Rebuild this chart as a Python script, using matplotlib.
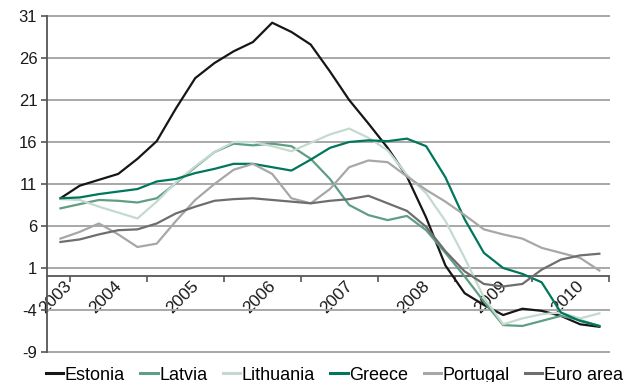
import numpy as np
import matplotlib
matplotlib.use("Agg")
import matplotlib.pyplot as plt

plt.rcParams['font.family'] = ['Liberation Sans', 'DejaVu Sans']
plt.rcParams['axes.unicode_minus'] = False

# Quarterly house price growth, % y/y (2003 Q4 - 2010 Q4)
years = ['2003', '2004', '2005', '2006', '2007', '2008', '2009', '2010']
series_names = ['Estonia', 'Latvia', 'Lithuania', 'Greece', 'Portugal', 'Euro area']

estonia = [9.3, 10.8, 11.5, 12.2, 14.0, 16.1, 20.0, 23.6, 25.4, 26.8, 27.9, 30.2, 29.1, 27.6,
           24.4, 21.0, 18.2, 15.3, 11.9, 7.0, 1.3, -2.0, -3.4, -4.6, -3.85, -4.1, -4.7, -5.7, -6.0]
latvia = [8.1, 8.6, 9.1, 9.0, 8.8, 9.3, 11.1, 13.0, 14.8, 15.8, 15.6, 15.8, 15.5, 14.0,
          11.6, 8.5, 7.3, 6.7, 7.2, 5.5, 2.8, 0.0, -3.0, -5.8, -5.9, -5.3, -4.7, -5.2, -5.9]
lithuania = [9.2, 9.1, 8.3, 7.6, 6.9, 8.9, 11.2, 13.1, 14.8, 16.0, 16.0, 15.5, 14.9, 15.9,
             16.9, 17.6, 16.5, 15.0, 12.1, 9.9, 6.6, 2.2, -2.5, -5.7, -5.0, -4.5, -4.3, -5.0, -4.4]
greece = [9.3, 9.4, 9.8, 10.1, 10.4, 11.3, 11.6, 12.3, 12.8, 13.4, 13.4, 13.0, 12.6, 13.9,
          15.3, 16.0, 16.2, 16.1, 16.4, 15.5, 11.8, 6.8, 2.8, 1.0, 0.3, -0.7, -4.3, -5.3, -5.9]
portugal = [4.5, 5.3, 6.3, 5.0, 3.5, 3.9, 6.6, 9.1, 11.0, 12.7, 13.4, 12.2, 9.3, 8.7,
            10.4, 13.0, 13.8, 13.6, 11.9, 10.3, 8.9, 7.3, 5.6, 5.0, 4.5, 3.4, 2.8, 2.2, 0.7]
euro_area = [4.1, 4.4, 5.0, 5.5, 5.6, 6.3, 7.5, 8.3, 9.0, 9.2, 9.3, 9.1, 8.9, 8.7,
             9.0, 9.2, 9.6, 8.7, 7.8, 5.9, 3.0, 0.6, -0.9, -1.2, -0.9, 0.8, 2.0, 2.5, 2.7]

colors = ['#161616', '#5f9e84', '#c5dacf', '#00775b', '#a7a7a7', '#6e6e6e']
y_ticks = [-9, -4, 1, 6, 11, 16, 21, 26, 31]

fig = plt.figure(figsize=(6.26, 3.82), dpi=100)
ax = fig.add_axes([47 / 626, 1 - 352 / 382, 562 / 626, 336 / 382])

x = np.arange(len(estonia))
for name, vals, col in zip(series_names,
                           [estonia, latvia, lithuania, greece, portugal, euro_area],
                           colors):
    ax.plot(x, vals, color=col, lw=1.6, label=name, zorder=3)

x_lo, x_hi = -0.7, 28.5
ax.set_xlim(x_lo, x_hi)
ax.set_ylim(-9, 31)

# y axis
ax.set_yticks(y_ticks)
ax.set_yticklabels([str(v) for v in y_ticks], fontsize=12, color='#1a1a1a')
ax.tick_params(axis='y', direction='out', length=4, width=1.2, color='#555555', pad=3)
ax.yaxis.grid(True, color='#a8a8a8', lw=1.4)
for gl in ax.get_ygridlines():
    gl.set_clip_on(False)
ax.set_axisbelow(True)

# x axis through zero, tick marks at year boundaries, labels centred in each year
bounds = [0.5 + 4 * k for k in range(len(years))]
group_edges = [x_lo] + bounds
label_pos = [(a + b) / 2 + 0.3 for a, b in zip(group_edges[:-1], group_edges[1:])]
ax.spines['bottom'].set_position(('data', 0))
ax.set_xticks(bounds, minor=True)
ax.set_xticks(label_pos)
ax.set_xticklabels(years, rotation=45, ha='right', rotation_mode='anchor',
                   fontsize=12.5, color='#1a1a1a')
ax.tick_params(axis='x', which='major', length=0, pad=1.5)
ax.tick_params(axis='x', which='minor', direction='out', length=4, width=1.2, color='#555555')

for s in ['top', 'right']:
    ax.spines[s].set_visible(False)
for s in ['left', 'bottom']:
    ax.spines[s].set_color('#555555')
    ax.spines[s].set_linewidth(1.3)

leg = fig.legend(loc='center left', bbox_to_anchor=(46 / 626, 1 - 375 / 382),
                 ncol=6, frameon=False, fontsize=13, handlelength=0.95,
                 handletextpad=0.1, columnspacing=0.85, borderpad=0, borderaxespad=0)
for h in leg.get_lines():
    h.set_linewidth(2.2)

fig.savefig('out.png', dpi=100)
